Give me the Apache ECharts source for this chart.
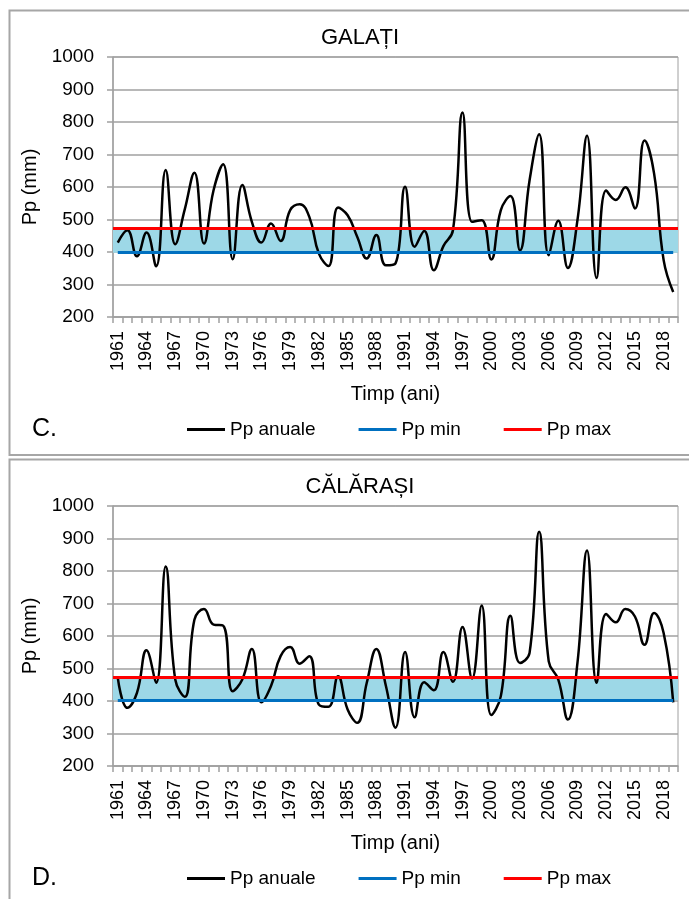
<!DOCTYPE html>
<html>
<head>
<meta charset="utf-8">
<script src="https://cdn.jsdelivr.net/npm/echarts@6/dist/echarts.min.js"></script>
<style>
  html, body { margin: 0; padding: 0; background: #fff; }
  #chart { width: 689px; height: 899px; }
</style>
</head>
<body>
<div id="chart"></div>
<script>
// Annual precipitation (mm), 1961–2019
const years = ['1961','1962','1963','1964','1965','1966','1967','1968','1969','1970',
  '1971','1972','1973','1974','1975','1976','1977','1978','1979','1980',
  '1981','1982','1983','1984','1985','1986','1987','1988','1989','1990',
  '1991','1992','1993','1994','1995','1996','1997','1998','1999','2000',
  '2001','2002','2003','2004','2005','2006','2007','2008','2009','2010',
  '2011','2012','2013','2014','2015','2016','2017','2018','2019'];

const galatiAnual = [429,467,387,460,356,652,424,532,644,426,
  590,670,378,606,493,429,488,434,529,547,
  508,395,357,537,513,447,380,452,359,365,
  601,416,465,344,418,467,829,493,498,377,
  529,572,405,621,762,390,496,351,498,758,
  320,589,560,599,534,743,642,375,277];

const calarasiAnual = [471,379,425,556,456,814,466,413,650,683,
  635,632,430,466,560,396,446,538,566,515,
  538,389,382,476,374,333,456,560,446,318,
  551,350,458,433,551,459,628,469,694,357,
  415,662,517,548,921,522,466,343,517,863,
  456,668,642,683,660,573,671,609,396];

// Normal-range thresholds (mm)
const galatiMin = 398, galatiMax = 473;
const calarasiMin = 402, calarasiMax = 473;

const yMin = 200, yMax = 1000, yStep = 100;
const seriesNames = ['Pp anuale', 'Pp min', 'Pp max'];

const FONT = 'Liberation Sans';
const GRAY = '#A0A0A0';
const BLACK = '#000000';
const BLUE = '#0070C0';
const RED = '#FF0000';
const BAND = '#9DD8E7';

const panels = [
  { title: 'GALA\u021AI', tag: 'C.', values: galatiAnual, min: galatiMin, max: galatiMax, off: 0 },
  { title: 'C\u0102L\u0102RA\u0218I', tag: 'D.', values: calarasiAnual, min: calarasiMin, max: calarasiMax, off: 449 }
];

const grids = [], xAxes = [], yAxes = [], series = [], titles = [], legends = [], graphics = [];

panels.forEach((p, i) => {
  grids.push({ left: 113, width: 565, top: 57 + p.off, height: 260, show: true,
    borderColor: GRAY, borderWidth: 1, backgroundColor: 'transparent' });

  xAxes.push({
    gridIndex: i, type: 'category', data: years, boundaryGap: true,
    name: 'Timp (ani)', nameLocation: 'middle', nameGap: 67,
    nameTextStyle: { fontFamily: FONT, fontSize: 20, color: BLACK },
    axisLine: { lineStyle: { color: GRAY, width: 1.5 } },
    axisTick: { show: true, interval: 0, length: 6, lineStyle: { color: GRAY, width: 1.5 } },
    axisLabel: { interval: 2, rotate: 90, margin: 14, fontFamily: FONT, fontSize: 18, color: BLACK },
    splitLine: { show: false }
  });

  yAxes.push({
    gridIndex: i, type: 'value', min: yMin, max: yMax, interval: yStep,
    name: 'Pp (mm)', nameLocation: 'middle', nameGap: 68,
    nameTextStyle: { fontFamily: FONT, fontSize: 20, color: BLACK },
    axisLine: { show: true, lineStyle: { color: GRAY, width: 1.5 } },
    axisTick: { show: true, length: 6, lineStyle: { color: GRAY, width: 1.5 } },
    axisLabel: { margin: 19, fontFamily: FONT, fontSize: 19, color: BLACK,
      formatter: v => String(v) },
    splitLine: { show: true, lineStyle: { color: GRAY, width: 1.5 } }
  });

  // normal range band
  series.push({
    name: 'band' + i, type: 'line', xAxisIndex: i, yAxisIndex: i, data: [], z: 1,
    markArea: { silent: true, itemStyle: { color: BAND }, data: [[{ yAxis: p.min }, { yAxis: p.max }]] }
  });

  series.push({
    name: seriesNames[0], type: 'line', xAxisIndex: i, yAxisIndex: i, data: p.values,
    smooth: 0.45, showSymbol: false, symbol: 'none', z: 3,
    color: BLACK, lineStyle: { color: BLACK, width: 2.5 }, itemStyle: { color: BLACK }
  });

  series.push({
    name: seriesNames[1], type: 'line', xAxisIndex: i, yAxisIndex: i, data: [], z: 4,
    color: BLUE, lineStyle: { color: BLUE, width: 3 }, itemStyle: { color: BLUE },
    markLine: { silent: true, symbol: 'none', label: { show: false },
      lineStyle: { color: BLUE, width: 3, type: 'solid' },
      data: [[{ coord: [years[0], p.min] }, { coord: [years[years.length - 1], p.min] }]] }
  });

  series.push({
    name: seriesNames[2], type: 'line', xAxisIndex: i, yAxisIndex: i, data: [], z: 4,
    color: RED, lineStyle: { color: RED, width: 3 }, itemStyle: { color: RED },
    markLine: { silent: true, symbol: 'none', label: { show: false },
      lineStyle: { color: RED, width: 3, type: 'solid' },
      data: [{ yAxis: p.max }] }
  });

  titles.push({ text: p.title, left: 355, top: 22 + p.off, textAlign: 'center',
    textStyle: { fontFamily: FONT, fontSize: 22, fontWeight: 'normal', color: BLACK } });

  legends.push({ data: seriesNames, left: 182, top: 415 + p.off, icon: 'rect',
    itemWidth: 38, itemHeight: 3, itemGap: 43, selectedMode: false,
    textStyle: { fontFamily: FONT, fontSize: 19, color: BLACK } });

  // panel frame
  graphics.push({ type: 'rect', shape: { x: 9.5, y: 10.5 + p.off, width: 700, height: p.off ? 460 : 444.5 },
    style: { fill: 'none', stroke: '#A6A6A6', lineWidth: 2 }, z: -10 });
  graphics.push({ type: 'text', left: 32, top: 417 + p.off,
    style: { text: p.tag, fontFamily: FONT, fontSize: 25, fill: BLACK } });
});

const chart = echarts.init(document.getElementById('chart'), null, { renderer: 'canvas' });
chart.setOption({
  animation: false,
  backgroundColor: '#fff',
  title: titles,
  legend: legends,
  grid: grids,
  xAxis: xAxes,
  yAxis: yAxes,
  series: series,
  graphic: graphics
});
</script>
</body>
</html>
